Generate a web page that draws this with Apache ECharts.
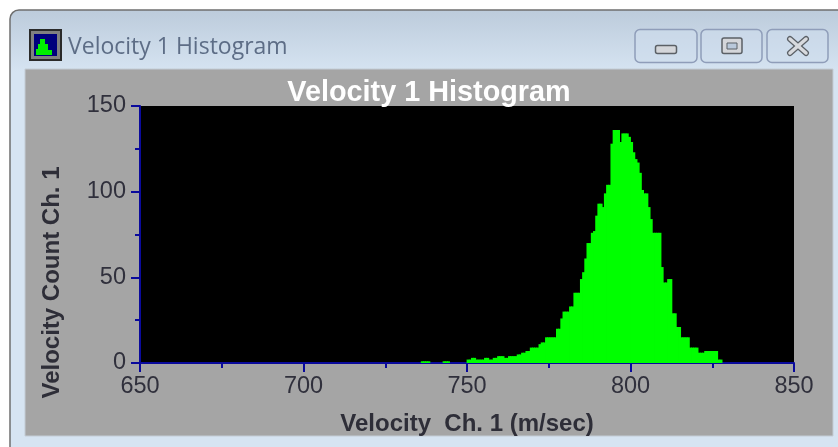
<!DOCTYPE html>
<html><head><meta charset="utf-8">
<style>html,body{margin:0;padding:0;background:#fff}#c{width:838px;height:447px}</style>
<script src="https://cdn.jsdelivr.net/npm/echarts@6/dist/echarts.min.js"></script>
</head><body><div id="c"></div>
<script>
const chartTitle = "Velocity 1 Histogram";
const xName = "Velocity  Ch. 1 (m/sec)";
const yName = "Velocity Count Ch. 1";
const binCenters = [
736.33,737,737.67,738.33,739,739.67,740.33,741,741.67,742.33,743,743.67,
744.33,745,745.67,746.33,747,747.67,748.33,749,749.67,750.33,751,751.67,
752.33,753,753.67,754.33,755,755.67,756.33,757,757.67,758.33,759,759.67,
760.33,761,761.67,762.33,763,763.67,764.33,765,765.67,766.33,767,767.67,
768.33,769,769.67,770.33,771,771.67,772.33,773,773.67,774.33,775,775.67,
776.33,777,777.67,778.33,779,779.67,780.33,781,781.67,782.33,783,783.67,
784.33,785,785.67,786.33,787,787.67,788.33,789,789.67,790.33,791,791.67,
792.33,793,793.67,794.33,795,795.67,796.33,797,797.67,798.33,799,799.67,
800.33,801,801.67,802.33,803,803.67,804.33,805,805.67,806.33,807,807.67,
808.33,809,809.67,810.33,811,811.67,812.33,813,813.67,814.33,815,815.67,
816.33,817,817.67,818.33,819,819.67,820.33,821,821.67,822.33,823,823.67,
824.33,825,825.67,826.33,827,827.67];
const counts = [
1,1,1,1,0,0,0,0,0,0,1,1,
1,0,0,0,0,0,0,0,0,2,2,3,
3,2,2,2,2,3,3,2,2,3,3,4,
4,4,3,3,4,4,4,4,5,5,6,6,
7,7,9,9,9,9,11,12,12,15,15,15,
15,15,20,20,26,30,30,30,33,33,41,41,
41,49,53,61,70,70,76,77,86,93,93,91,
99,104,104,128,136,136,136,129,134,134,134,132,
129,123,119,117,111,101,99,99,91,84,76,76,
76,76,56,47,47,49,49,29,29,21,21,15,
15,15,15,9,9,9,9,6,6,6,7,7,
7,7,7,7,2,2];
const xTicks = {min:650,max:850,interval:50};
const yTicks = {min:0,max:150,interval:50};

const navy = '#0a0a9c', labelCol = '#30303c';
const chart = echarts.init(document.getElementById('c'), null, {renderer:'canvas'});
const pairs = binCenters.map((v,i)=>[v,counts[i]]);
const chrome = [
 {type:'rect',z:-10,silent:true,shape:{x:10,y:10,width:840,height:450,r:[9,0,0,0]},
  style:{fill:new echarts.graphic.LinearGradient(0,0,0,0.14,[{offset:0,color:'#bccbdb'},{offset:1,color:'#d6e4f2'}]),stroke:'#6f6f6f',lineWidth:1.5}},
 {type:'rect',z:-9,silent:true,shape:{x:25,y:69,width:808,height:367},style:{fill:'#a5a5a5',stroke:'#c3ccd5',lineWidth:1}},
 {type:'rect',z:-8,silent:true,shape:{x:30,y:30,width:31,height:30},style:{fill:'#808080',stroke:'#2a2a2a',lineWidth:2}},
 {type:'rect',z:-7,silent:true,shape:{x:34,y:34,width:23,height:22},style:{fill:'#00007c'}},
 {type:'polygon',z:-6,silent:true,shape:{points:[[36,55],[36,49],[38,49],[38,44],[40,44],[40,39],[45,39],[45,44],[48,44],[48,50],[52,50],[52,55]]},style:{fill:'#00f000'}},
 {type:'text',z:-5,silent:true,style:{x:68,y:47,text:chartTitle,fill:'#5d6d86',font:'23px "Open Sans"',textVerticalAlign:'middle'}},
];
[[635,62],[701,61],[767,61]].forEach(b=>chrome.push({type:'rect',z:-5,silent:true,shape:{x:b[0],y:29.5,width:b[1],height:33,r:5},
  style:{fill:'rgba(205,220,236,0.55)',stroke:'#8f9db9',lineWidth:1.5}}));
chrome.push(
 {type:'rect',z:-4,silent:true,shape:{x:655.5,y:45.5,width:21,height:8,r:2},style:{fill:'#d4d6da',stroke:'#5b6066',lineWidth:1.5}},
 {type:'rect',z:-4,silent:true,shape:{x:722,y:38,width:20,height:15.5,r:2},style:{fill:'#d4d6da',stroke:'#5b6066',lineWidth:1.5}},
 {type:'rect',z:-3,silent:true,shape:{x:727,y:43,width:10,height:6},style:{fill:'#b9c8da',stroke:'#5b6066',lineWidth:1}},
 {type:'line',z:-4,silent:true,shape:{x1:790,y1:39,x2:806,y2:53},style:{stroke:'#5b6066',lineWidth:6,lineCap:'round'}},
 {type:'line',z:-4,silent:true,shape:{x1:806,y1:39,x2:790,y2:53},style:{stroke:'#5b6066',lineWidth:6,lineCap:'round'}},
 {type:'line',z:-3,silent:true,shape:{x1:790,y1:39,x2:806,y2:53},style:{stroke:'#d8dade',lineWidth:3.5,lineCap:'round'}},
 {type:'line',z:-3,silent:true,shape:{x1:806,y1:39,x2:790,y2:53},style:{stroke:'#d8dade',lineWidth:3.5,lineCap:'round'}}
);
chart.setOption({
 animation:false,
 backgroundColor:'#ffffff',
 graphic:{elements:chrome},
 title:{text:chartTitle,left:424,top:74,textAlign:'center',z:20,
   textStyle:{color:'#ffffff',fontFamily:'"Liberation Sans"',fontWeight:'bold',fontSize:28.8}},
 grid:{left:140,top:106,width:654,height:257,show:true,backgroundColor:'#000',borderWidth:0,outerBoundsMode:'none',containLabel:false},
 xAxis:{type:'value',...xTicks,name:xName,nameLocation:'middle',nameGap:49,
   nameTextStyle:{color:'#2e2e38',fontFamily:'"Liberation Sans"',fontWeight:'bold',fontSize:24},
   axisLine:{show:true,onZero:false,lineStyle:{color:navy,width:2}},
   axisTick:{show:true,length:9,lineStyle:{color:navy,width:2}},
   minorTick:{show:true,splitNumber:2,length:5,lineStyle:{color:navy,width:2}},
   splitLine:{show:false},minorSplitLine:{show:false},
   axisLabel:{color:labelCol,fontFamily:'"Liberation Sans"',fontSize:23.5,margin:12,showMinLabel:true,showMaxLabel:true}},
 yAxis:{type:'value',...yTicks,name:yName,nameLocation:'middle',nameGap:76,
   nameTextStyle:{color:'#2e2e38',fontFamily:'"Liberation Sans"',fontWeight:'bold',fontSize:24,padding:[0,96,0,0]},
   axisLine:{show:true,onZero:false,lineStyle:{color:navy,width:2}},
   axisTick:{show:true,length:9,lineStyle:{color:navy,width:2}},
   minorTick:{show:true,splitNumber:2,length:5,lineStyle:{color:navy,width:2}},
   splitLine:{show:false},minorSplitLine:{show:false},
   axisLabel:{color:labelCol,fontFamily:'"Liberation Sans"',fontSize:23.5,margin:14,padding:[5,0,0,0],showMinLabel:true,showMaxLabel:true}},
 series:[{type:'bar',data:pairs,barWidth:3,itemStyle:{color:'#00ff00'},silent:true,z:2}]
});
</script></body></html>
